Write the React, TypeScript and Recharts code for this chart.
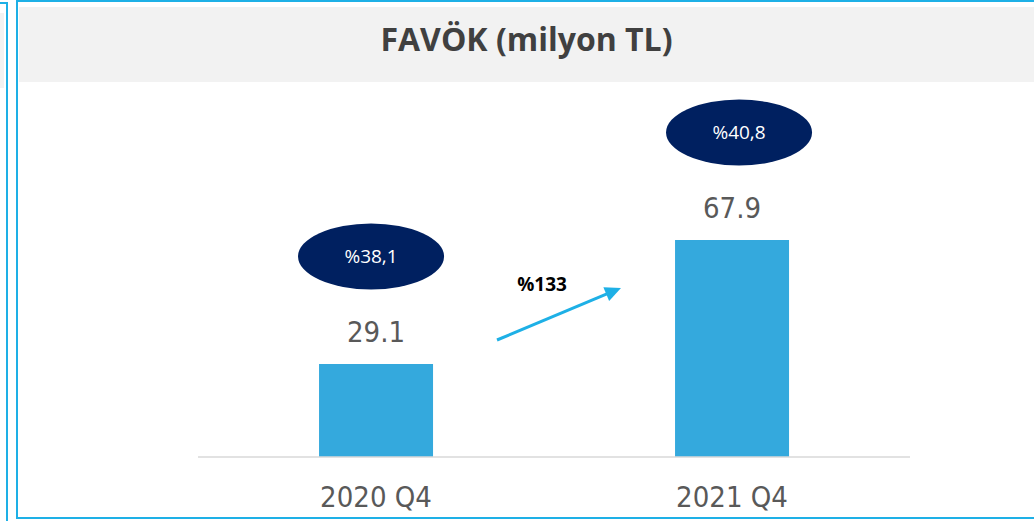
import { BarChart, Bar, XAxis, YAxis, LabelList } from "recharts";

const periods = ["2020 Q4", "2021 Q4"];
const favok = [29.1, 67.9];
const margins = [38.1, 40.8];

const data = periods.map((p, i) => ({ period: p, favok: favok[i], margin: margins[i] }));

const growth = Math.round((favok[1] / favok[0] - 1) * 100);

const BLUE = "#1eb0e6";
const BAR = "#34a9dd";
const NAVY = "#002060";
const TEXT = "#595959";
const NUM_FONT = "'Liberation Sans Narrow', 'DejaVu Sans Condensed', sans-serif";

const badgeShift = [-5, 7];

const trComma = (v: number) => "%" + v.toFixed(1).replace(".", ",");

const BarLabel = (props: any) => {
  const { x, y, width, value, index } = props;
  const cx = x + width / 2;
  const bx = cx + badgeShift[index];
  const by = y - 107.5;
  return (
    <g>
      <text x={cx} y={y - 22} textAnchor="middle" fill={TEXT} fontSize={29} fontFamily={NUM_FONT}>
        {String(value)}
      </text>
      <ellipse cx={bx} cy={by} rx={73} ry={33} fill={NAVY} />
      <text
        x={bx}
        y={by + 7}
        textAnchor="middle"
        fill="#ffffff"
        fontSize={19}
        fontFamily="'Open Sans', sans-serif"
      >
        {trComma(margins[index])}
      </text>
    </g>
  );
};

const Tick = (props: any) => {
  const { x, y, payload } = props;
  return (
    <text x={x} y={y} dy={42} textAnchor="middle" fill={TEXT} fontSize={29} fontFamily={NUM_FONT}>
      {payload.value}
    </text>
  );
};

const Arrow = () => {
  const x1 = 497, y1 = 340, x2 = 621, y2 = 288;
  const len = Math.hypot(x2 - x1, y2 - y1);
  const ux = (x2 - x1) / len, uy = (y2 - y1) / len;
  const hl = 16, hw = 7.5;
  const bx = x2 - ux * hl, by = y2 - uy * hl;
  const pts = `${x2},${y2} ${bx - uy * hw},${by + ux * hw} ${bx + uy * hw},${by - ux * hw}`;
  return (
    <svg width={1034} height={521} style={{ position: "absolute", left: 0, top: 0 }}>
      <line x1={x1} y1={y1} x2={bx + ux * 2} y2={by + uy * 2} stroke={BLUE} strokeWidth={3} />
      <polygon points={pts} fill={BLUE} />
      <text x={542} y={291} textAnchor="middle" fontSize={19} fontWeight={700} fill="#000" fontFamily="'Open Sans', sans-serif">
        %{growth}
      </text>
    </svg>
  );
};

export default function App() {
  return (
    <div style={{ position: "absolute", left: 0, top: 0, width: 1034, height: 521, overflow: "hidden", background: "#fff" }}>
      {/* left neighbour panel fragment */}
      <div style={{ position: "absolute", left: -100, top: 2, width: 103.5, height: 540, border: `2.5px solid ${BLUE}` }} />
      <div style={{ position: "absolute", left: 0, top: 13, width: 4, height: 75, background: "#f2f2f2" }} />
      {/* main panel */}
      <div style={{ position: "absolute", left: 16, top: -0.5, width: 1100, height: 515.5, border: `2.5px solid ${BLUE}` }} />
      <div
        style={{
          position: "absolute",
          left: 19,
          top: 7,
          width: 1015,
          height: 75,
          background: "#f2f2f2",
          display: "flex",
          alignItems: "center",
          justifyContent: "center",
          fontFamily: "'Open Sans', sans-serif",
          fontWeight: 700,
          fontSize: 32,
          color: "#404040",
          paddingBottom: 12,
          boxSizing: "border-box",
        }}
      >
        FAVÖK (milyon TL)
      </div>
      <div style={{ position: "absolute", left: 0, top: 0 }}>
        <BarChart width={1034} height={521} data={data} margin={{ top: 137.4, right: 124, bottom: 24, left: 198 }} barCategoryGap="34%">
          <XAxis
            dataKey="period"
            height={40}
            tickLine={false}
            axisLine={{ stroke: "#d9d9d9", strokeWidth: 1.5 }}
            tick={<Tick />}
            interval={0}
          />
          <YAxis hide domain={[0, 100]} />
          <Bar dataKey="favok" fill={BAR} isAnimationActive={false}>
            <LabelList dataKey="favok" content={<BarLabel />} />
          </Bar>
        </BarChart>
      </div>
      <Arrow />
    </div>
  );
}
